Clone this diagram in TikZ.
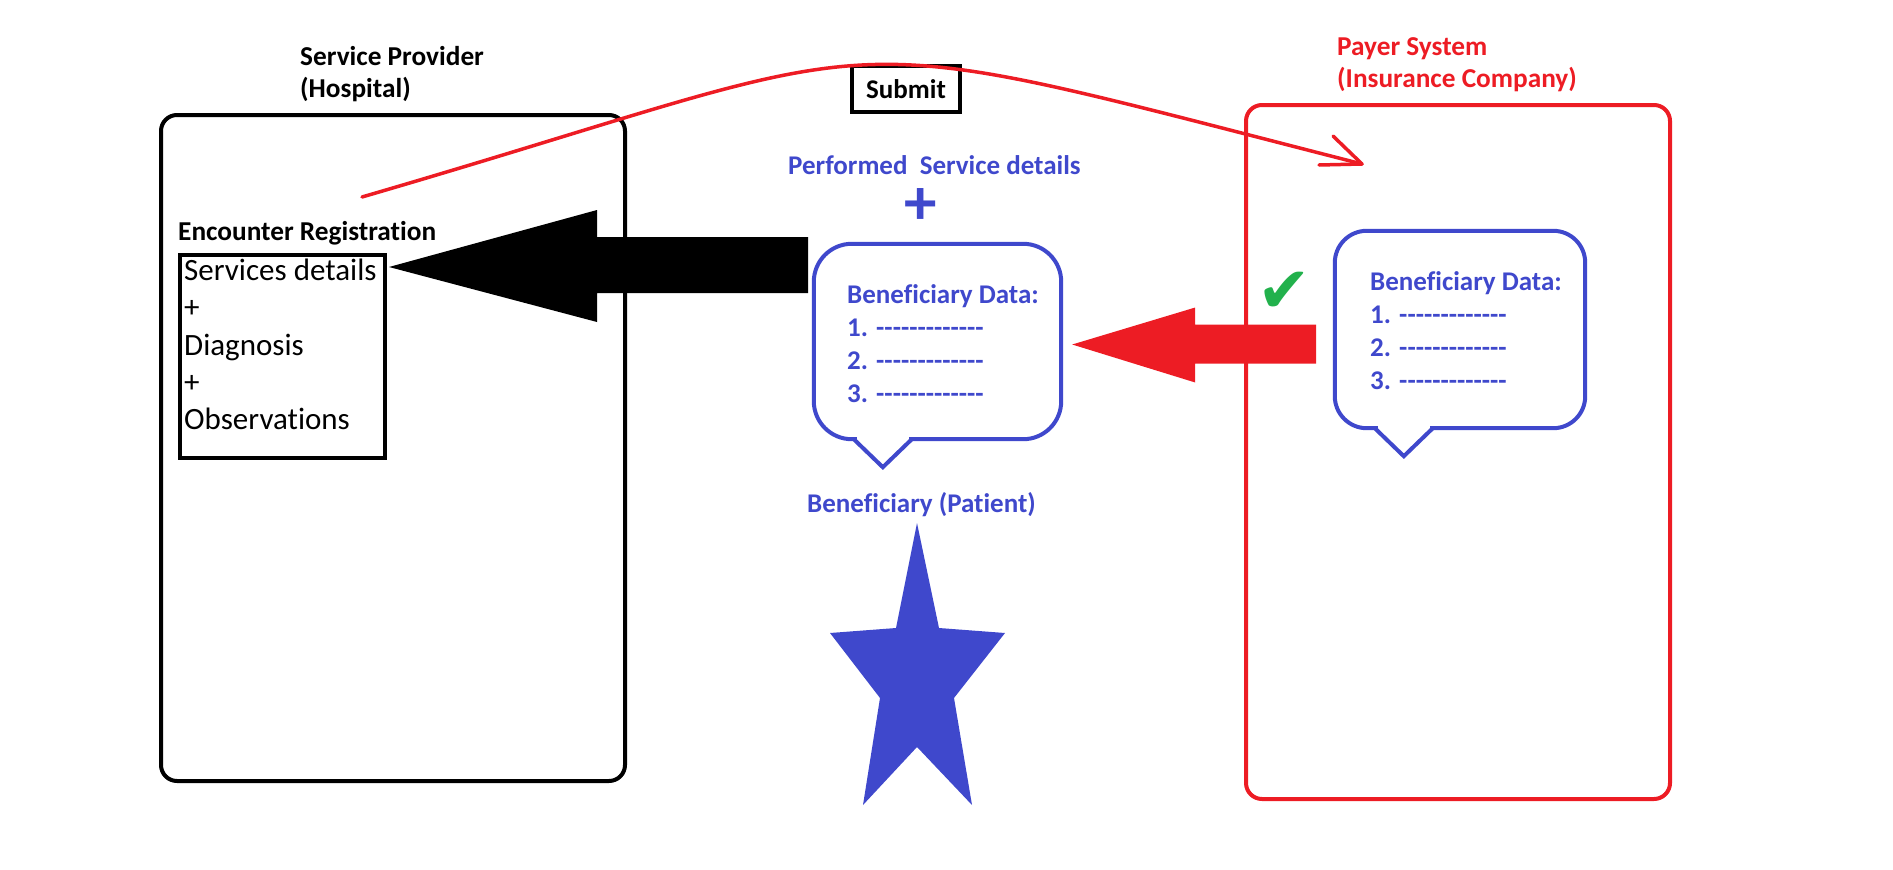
\documentclass[tikz,border=0pt]{standalone}
\usepackage{fontspec}
\setmainfont{Carlito}[Ligatures={TeXOff,CommonOff}]
\newfontfamily\symfont{DejaVu Sans}
\usetikzlibrary{calc}
\definecolor{pblue}{HTML}{3F48CC}
\definecolor{pred}{HTML}{ED1C24}
\definecolor{pgreen}{HTML}{22B14C}
\begin{document}
\begin{tikzpicture}[x=1pt,y=-1pt,
  boldtxt/.style={font=\bfseries\fontsize{27.3}{32}\selectfont, inner sep=0, align=left},
  bubtxt/.style={font=\bfseries\fontsize{27}{33}\selectfont, text=pblue, inner sep=0, align=left},
  bubline/.style={draw=pblue, line width=4pt},
  frame/.style={line width=4pt, inner sep=0, anchor=north west},
]
\useasboundingbox (0,0) rectangle (1893,870);

% containers
\node[frame, draw=black, rounded corners=16pt, minimum width=464, minimum height=666] (hosp) at (159,113) {};
\node[frame, draw=pred, rounded corners=16pt, minimum width=424, minimum height=694] (payer) at (1244,103) {};

% labels of containers
\node[boldtxt, anchor=north west] (hosplbl) at (300,46) {Service Provider\\(Hospital)};
\node[boldtxt, anchor=north west, text=pred] (payerlbl) at (1337,37) {Payer System\\(Insurance Company)};

% encounter registration
\node[boldtxt, anchor=north west] (enclbl) at (178,221) {Encounter Registration};
\node[frame, draw=black, minimum width=205, minimum height=203] (reg) at (178,253) {};
\node[anchor=north west, inner sep=0, align=left, font=\fontsize{31}{37.25}\selectfont] (regtxt) at (184,259)
  {Services details\\+\\Diagnosis\\+\\Observations};

% submit
\node[draw=black, line width=4pt, minimum width=108, minimum height=46, inner sep=0,
      font=\bfseries\fontsize{27}{28}\selectfont] (submit) at (906,89) {Submit};

% middle: performed service details
\node[bubtxt, anchor=base west] (perf) at (788,174) {Performed\ \ Service details};
\node[font=\bfseries\fontsize{65}{65}\selectfont, text=pblue, inner sep=0] (plus) at (921,207) {+};

% bubbles (outline drawn from each node's box; text block shifted a little right)
\node[bubtxt, minimum width=247, minimum height=195] (b1) at (937.5,341.5) {};
\node[bubtxt, anchor=north west] (b1txt) at (847,284)
  {Beneficiary Data:\\1. -------------\\2. -------------\\3. -------------};
\node[bubtxt, minimum width=250, minimum height=197] (b2) at (1460,329.5) {};
\node[bubtxt, anchor=north west] (b2txt) at (1370,271)
  {Beneficiary Data:\\1. -------------\\2. -------------\\3. -------------};

\foreach \b/\r in {b1/38pt, b2/32pt}{
  \draw[bubline, rounded corners=\r] (\b.south west) rectangle (\b.north east);
  \fill[white] ($(\b.south west)+(43,-3)$) rectangle ($(\b.south west)+(95,3)$);
  \draw[bubline, line join=miter] ($(\b.south west)+(40,0)$) -- ($(\b.south west)+(69,28)$) -- ($(\b.south west)+(98,0)$);
}

% patient
\node[bubtxt, anchor=base west] (patient) at (807,512) {Beneficiary (Patient)};
\fill[pblue] (917,523) -- (939,628) -- (1005,633) -- (954,698) -- (972,805) -- (917,747)
  -- (863,805) -- (880,698) -- (830,633) -- (896,628) -- cycle;

% fat black arrow: from middle bubble to registration box
\coordinate (btip) at ($(reg.north east)+(2,14)$);
\fill[black] (btip) -- ++(208,-57) -- ++(0,27) -- ++(211,0) -- ++(0,56) -- ++(-211,0) -- ++(0,29) -- cycle;

% fat red arrow: from payer bubble to middle bubble
\coordinate (rtip) at ($(b1.east)+(11,3)$);
\fill[pred] (rtip) -- ++(123,-37) -- ++(0,17) -- ++(121,0) -- ++(0,39) -- ++(-121,0) -- ++(0,19) -- cycle;

% check mark
\node[font=\symfont\fontsize{64}{64}\selectfont, text=pgreen, inner sep=0] (check) at (1284,292) {✔};

% submit curve
\coordinate (cs) at ($(hosp.north west)+(203,84)$);
\coordinate (ce) at ($(payer.north west)+(118,61)$);
\draw[pred, line width=3.5pt, line cap=round] (cs) .. controls (925,33) and (799,20) .. (ce);
\draw[pred, line width=3.5pt, line cap=round, line join=round] ($(ce)+(-29,-28)$) -- (ce) -- ($(ce)+(-43,1)$);
\end{tikzpicture}
\end{document}
